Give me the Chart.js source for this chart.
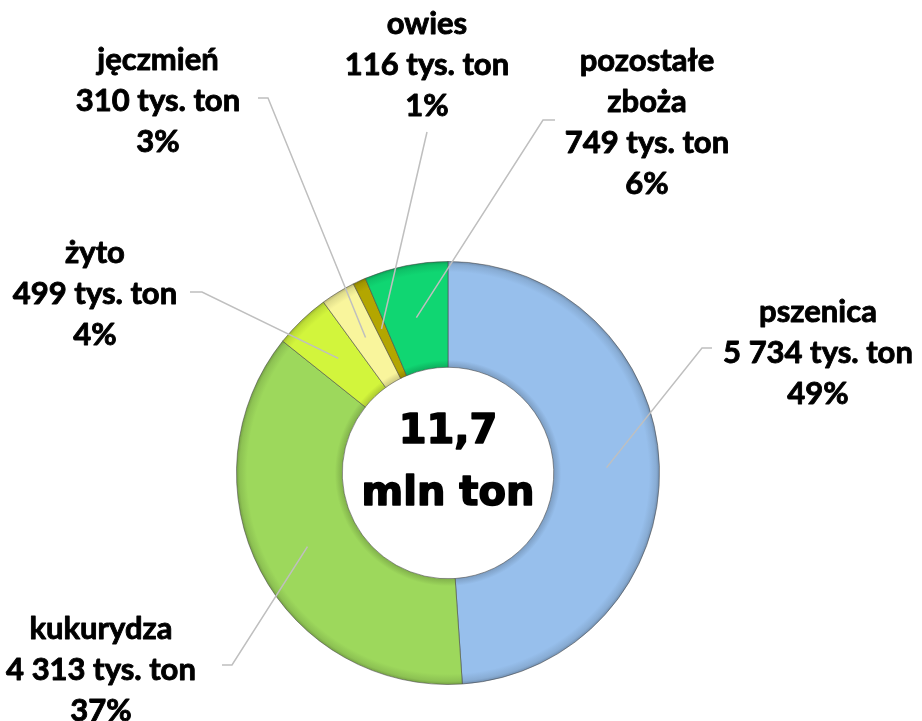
<!DOCTYPE html>
<html>
<head>
<meta charset="utf-8">
<script src="https://cdn.jsdelivr.net/npm/chart.js@4"></script>
<style>
html,body{margin:0;padding:0;background:#fff;}
#wrap{position:relative;width:922px;height:721px;}
</style>
</head>
<body>
<div id="wrap"><canvas id="c" width="922" height="721"></canvas></div>
<script>
// ---- data ----
const categories = ['pszenica', 'kukurydza', 'żyto', 'jęczmień', 'owies', 'pozostałe\nzboża'];
const valuesTysTon = [5734, 4313, 499, 310, 116, 749];
const centerLines = ['11,7', 'mln ton'];
const unitLabel = 'tys. ton';

// ---- styles / layout (not data) ----
const sliceColors = ['#97BFEC', '#9DD85C', '#D2F53C', '#F9F59C', '#B3A600', '#10D672'];
const labelLayout = [
  {x: 818, y: 312, elbow: [[712, 348], [702, 348]]},
  {x: 101, y: 629, elbow: [[222, 665], [232, 665]]},
  {x: 95,  y: 253, elbow: [[190, 292], [202, 292]]},
  {x: 158, y: 60,  elbow: [[258, 98], [268, 98]]},
  {x: 427, y: 24,  elbow: [[427, 132]]},
  {x: 647, y: 61,  elbow: [[555, 120], [543, 120]]}
];
const lineHeight = 41;

const total = valuesTysTon.reduce((a, b) => a + b, 0);
function fmt(n) { return String(n).replace(/\B(?=(\d{3})+(?!\d))/g, ' '); }

function shade(hex, f) {
  const n = parseInt(hex.slice(1), 16);
  let r = (n >> 16) & 255, g = (n >> 8) & 255, b = n & 255;
  r = Math.round(r * f); g = Math.round(g * f); b = Math.round(b * f);
  return `rgb(${Math.min(255,r)},${Math.min(255,g)},${Math.min(255,b)})`;
}

const labelPlugin = {
  id: 'labelPlugin',
  afterDatasetsDraw(chart) {
    const ctx = chart.ctx;
    const meta = chart.getDatasetMeta(0);
    ctx.save();
    // leader lines
    ctx.strokeStyle = '#BFBFBF';
    ctx.lineWidth = 1.5;
    meta.data.forEach((arc, i) => {
      const p = arc.tooltipPosition();
      const L = labelLayout[i];
      ctx.beginPath();
      ctx.moveTo(L.elbow[0][0], L.elbow[0][1]);
      for (let k = 1; k < L.elbow.length; k++) ctx.lineTo(L.elbow[k][0], L.elbow[k][1]);
      ctx.lineTo(p.x, p.y);
      ctx.stroke();
    });
    // labels
    ctx.fillStyle = '#000';
    ctx.strokeStyle = '#000';
    ctx.lineJoin = 'round';
    ctx.lineWidth = 0.9;
    ctx.font = 'bold 31px Lato';
    ctx.textAlign = 'center';
    ctx.textBaseline = 'middle';
    categories.forEach((name, i) => {
      const L = labelLayout[i];
      const lines = name.split('\n').concat([
        fmt(valuesTysTon[i]) + ' ' + unitLabel,
        Math.round(valuesTysTon[i] / total * 100) + '%'
      ]);
      lines.forEach((t, k) => {
        ctx.fillText(t, L.x, L.y + k * lineHeight);
        ctx.strokeText(t, L.x, L.y + k * lineHeight);
      });
    });
    // center text
    const cx = (chart.chartArea.left + chart.chartArea.right) / 2;
    const cy = (chart.chartArea.top + chart.chartArea.bottom) / 2;
    ctx.font = 'bold 40px "DejaVu Sans"';
    ctx.textBaseline = 'alphabetic';
    ctx.lineWidth = 1.6;
    ctx.fillText(centerLines[0], cx, cy - 30);
    ctx.strokeText(centerLines[0], cx, cy - 30);
    ctx.fillText(centerLines[1], cx, cy + 32);
    ctx.strokeText(centerLines[1], cx, cy + 32);
    ctx.restore();
  }
};

function sliceFill(context) {
  const chart = context.chart;
  const i = context.dataIndex;
  const base = sliceColors[i];
  const meta = chart.getDatasetMeta(0);
  const ctrl = meta.controller;
  if (!chart.chartArea || !ctrl || !ctrl.outerRadius) return base;
  const cx = (chart.chartArea.left + chart.chartArea.right) / 2;
  const cy = (chart.chartArea.top + chart.chartArea.bottom) / 2;
  const ri = ctrl.innerRadius, ro = ctrl.outerRadius;
  const g = chart.ctx.createRadialGradient(cx, cy, ri, cx, cy, ro);
  g.addColorStop(0, shade(base, 0.82));
  g.addColorStop(0.07, shade(base, 1.0));
  g.addColorStop(0.9, base);
  g.addColorStop(0.97, shade(base, 0.9));
  g.addColorStop(1, shade(base, 0.75));
  return g;
}

new Chart(document.getElementById('c'), {
  type: 'doughnut',
  data: {
    labels: categories,
    datasets: [{
      data: valuesTysTon,
      backgroundColor: sliceFill,
      borderColor: 'rgba(70,70,70,0.55)',
      borderWidth: 1
    }]
  },
  options: {
    responsive: false,
    animation: false,
    cutout: '50%',
    layout: {padding: {left: 236, right: 262, top: 261, bottom: 36}},
    plugins: {legend: {display: false}, tooltip: {enabled: false}}
  },
  plugins: [labelPlugin]
});
</script>
</body>
</html>
